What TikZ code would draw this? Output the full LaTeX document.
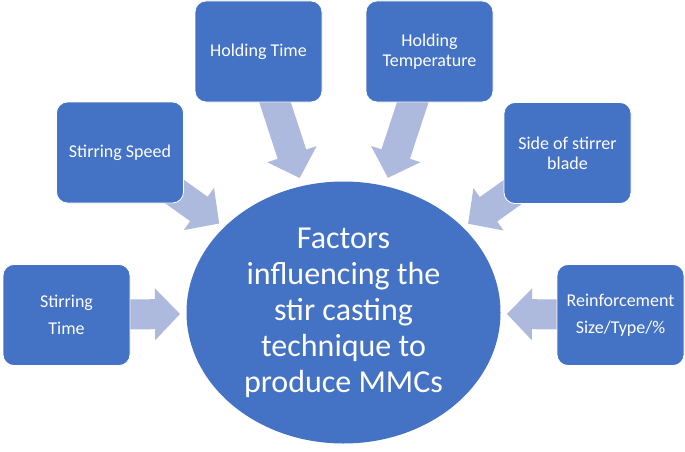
\documentclass[tikz,border=0pt]{standalone}
\usepackage{fontspec}
\setmainfont{Carlito}
\usetikzlibrary{shapes, positioning, calc}

\pgfdeclarelayer{background}
\pgfsetlayers{background,main}

\definecolor{boxblue}{RGB}{68,114,196}
\definecolor{arrowblue}{RGB}{174,186,221}

\tikzset{
    factor/.style={rectangle, rounded corners=11pt, fill=boxblue, draw=white, line width=0.8pt,
        text=white, minimum width=127pt, minimum height=101pt, inner sep=2pt, align=center,
        font=\fontsize{18}{27}\selectfont},
    tight/.style={font=\fontsize{18}{20}\selectfont},
    hub/.style={ellipse, fill=boxblue, text=white, minimum width=314pt, minimum height=262pt,
        inner sep=0pt, align=center, font=\fontsize{32}{36}\selectfont}
}

% block arrow from a box (tail, hidden behind it) to a tip
\newcommand{\blockarrow}[2]{%
    \coordinate (hb) at ($(#2)!25pt!(#1)$);
    \fill[arrowblue] ($(#1)!15pt!90:(#2)$) -- ($(hb)!15pt!90:(#2)$) -- ($(hb)!26pt!90:(#2)$)
        -- (#2) -- ($(hb)!26pt!-90:(#2)$) -- ($(hb)!15pt!-90:(#2)$) -- ($(#1)!15pt!-90:(#2)$) -- cycle;
}

\begin{document}
\begin{tikzpicture}[x=1pt, y=1pt]
    \useasboundingbox (0,0) rectangle (685,451);

    \node[hub] (hub) at (343.5, 138.5) {Factors\\influencing the\\stir casting\\technique to\\produce MMCs};

    \node[factor] (stime) at (66.5, 136) {Stirring\\Time};
    \node[factor] (speed) at (120, 298.5) {Stirring Speed};
    \node[factor] (htime) at (258.5, 399.5) {Holding Time};
    \node[factor, tight] (htemp) at (429.5, 399.5) {Holding\\Temperature};
    \node[factor, tight] (blade) at (567.5, 298) {Side of stirrer\\blade};
    \node[factor] (reinf) at (620.5, 136) {Reinforcement\\Size/Type/\%};

    \begin{pgfonlayer}{background}
        \coordinate (stime-tip) at ($(stime)!113.5pt!(hub)$);
        \coordinate (speed-tip) at ($(speed)!122pt!(hub)$);
        \coordinate (htime-tip) at ($(htime)!133pt!(hub)$);
        \coordinate (htemp-tip) at ($(htemp)!133pt!(hub)$);
        \coordinate (blade-tip) at ($(blade)!122pt!(hub)$);
        \coordinate (reinf-tip) at ($(reinf)!113.5pt!(hub)$);

        \blockarrow{stime}{stime-tip}
        \blockarrow{speed}{speed-tip}
        \blockarrow{htime}{htime-tip}
        \blockarrow{htemp}{htemp-tip}
        \blockarrow{blade}{blade-tip}
        \blockarrow{reinf}{reinf-tip}
    \end{pgfonlayer}
\end{tikzpicture}
\end{document}
